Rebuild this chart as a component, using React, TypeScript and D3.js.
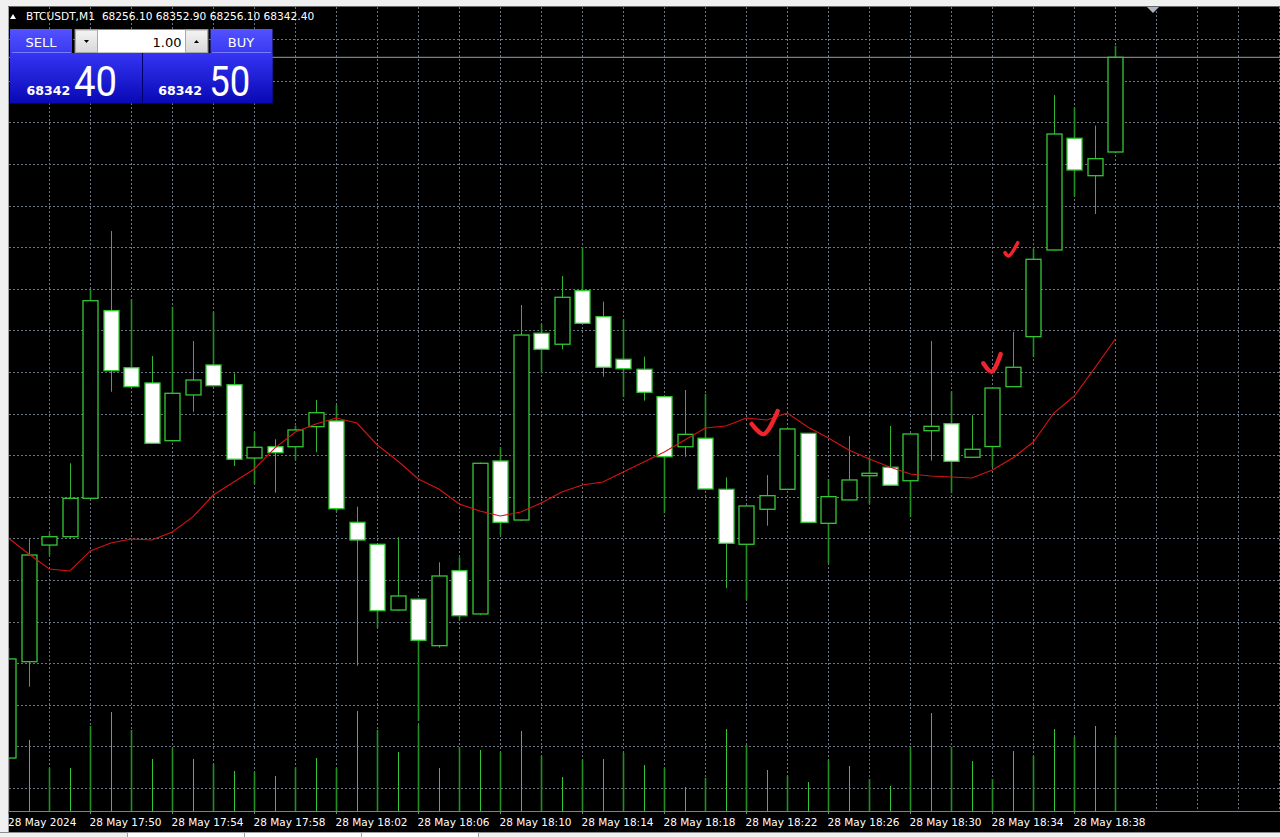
import React from 'react';
import * as d3 from 'd3';

// ---- data (array index 0 = 17:46, last = 18:40) ----
const times = [
  '17:46','17:47','17:48','17:49','17:50','17:51','17:52','17:53','17:54','17:55',
  '17:56','17:57','17:58','17:59','18:00','18:01','18:02','18:03','18:04','18:05',
  '18:06','18:07','18:08','18:09','18:10','18:11','18:12','18:13','18:14','18:15',
  '18:16','18:17','18:18','18:19','18:20','18:21','18:22','18:23','18:24','18:25',
  '18:26','18:27','18:28','18:29','18:30','18:31','18:32','18:33','18:34','18:35',
  '18:36','18:37','18:38','18:39','18:40'
];
const opens = [
  67703.8,67791.6,67897.9,67905.5,67940.5,68111.5,68059.5,68045.6,67993.0,68034.7,
  68062.0,68044.0,67977.2,67987.5,67987.5,68005.8,68011.0,67918.6,67898.6,67838.7,
  67848.5,67806.2,67874.5,67835.1,67974.5,67920.7,68090.9,68080.9,68129.7,68106.0,
  68067.2,68058.1,68033.1,67987.5,67995.2,67948.7,67898.6,67930.5,67948.7,67999.7,
  67917.7,67939.0,67961.1,67968.8,67956.5,68002.1,68008.5,67977.9,67987.7,68042.2,
  68087.8,68166.8,68268.6,68234.5,68256.1
];
const highs = [
  67804.1,67904.1,67908.6,67972.4,68130.3,68184.1,68122.1,68070.2,68115.1,68083.9,
  68110.6,68054.4,68001.2,67994.3,68006.7,68030.1,68025.5,67932.9,67898.6,67905.0,
  67849.2,67882.2,67886.7,67973.1,67987.0,68116.7,68099.4,68143.1,68169.5,68119.7,
  68103.6,68069.6,68033.7,68039.2,68035.6,67959.6,67933.9,67961.7,68004.1,68000.0,
  67958.1,67997.3,67977.9,68006.4,67999.6,68083.9,68038.3,68016.4,68041.5,68092.1,
  68167.7,68308.0,68296.8,68280.1,68352.9
];
const lows = [
  67674.7,67768.8,67888.8,67904.3,67939.9,68037.6,68041.5,67990.0,67992.3,68019.4,
  68042.4,67969.9,67953.5,67945.6,67975.4,67982.4,67928.3,67788.0,67822.6,67837.8,
  67737.6,67804.4,67829.6,67834.2,67907.1,67919.8,68054.4,68076.3,68099.4,68051.3,
  68032.6,68029.5,67926.8,67978.4,67948.5,67858.5,67847.8,67915.5,67948.1,67918.0,
  67881.3,67938.5,67935.3,67952.2,67923.2,67974.8,67945.1,67977.4,67969.0,68041.9,
  68069.0,68166.3,68215.4,68199.6,68256.1
];
const closes = [
  67794.1,67888.8,67905.5,67940.5,68120.6,68056.8,68042.2,67990.6,68036.2,68048.3,
  68043.1,67976.1,67987.0,67982.1,68002.8,68018.5,67931.0,67902.5,67838.1,67851.5,
  67811.1,67869.7,67833.5,67972.4,67918.6,68089.3,68076.3,68123.7,68100.0,68059.9,
  68058.6,68037.1,67978.4,67998.8,67949.0,67899.5,67933.5,67942.9,68003.7,67918.6,
  67942.0,67957.2,67963.3,67952.4,67999.1,68006.1,67974.2,67985.2,68041.0,68059.9,
  68158.3,68272.5,68239.7,68250.0,68342.4
];
const volumes = [
  60,71,43,43,85,99,81,52,63,52,
  47,40,39,35,44,53,43,100,81,59,
  86,43,64,61,59,80,55,34,51,52,
  58,46,43,24,33,82,66,41,35,29,
  51,45,32,25,64,98,64,50,32,60,
  55,82,74,85,74
];
const maValues = [
  67904.3,67889.7,67876.1,67874.3,67892.5,67899.8,67903.4,67902.5,67909.8,67923.5,
  67943.5,67955.4,67967.2,67986.3,68000.9,68008.2,68013.7,68009.1,67989.1,67974.5,
  67958.1,67949.0,67935.3,67928.9,67924.4,67928.0,67936.2,67946.3,67952.6,67955.4,
  67964.5,67973.6,67982.7,67993.6,68004.6,68006.4,68013.7,68011.9,68018.2,68005.5,
  67995.5,67984.5,67976.3,67969.0,67962.7,67960.8,67959.9,67959.0,67966.3,67977.2,
  67991.8,68018.2,68033.7,68059.3,68085.7
];
const tickLabels = [
  '28 May 2024','28 May 17:50','28 May 17:54','28 May 17:58','28 May 18:02','28 May 18:06',
  '28 May 18:10','28 May 18:14','28 May 18:18','28 May 18:22','28 May 18:26','28 May 18:30',
  '28 May 18:34','28 May 18:38'
];
const tickTimes = [
  '17:46','17:50','17:54','17:58','18:02','18:06','18:10','18:14','18:18','18:22','18:26','18:30','18:34','18:38'
];
const gridPrices = [
  68358.8,68320.9,68283.0,68245.1,68207.2,68169.3,68131.4,68093.5,68055.6,68017.7,
  67979.7,67941.8,67903.9,67866.0,67828.1,67790.2,67752.3,67714.4,67676.5
];
// hand-drawn check marks: [candle position (fractional index), price]
const checks = [
  [[36.26, 68008.3], [36.85, 67999.0], [37.53, 68020.1]],
  [[47.56, 68063.5], [47.97, 68055.9], [48.41, 68072.0]],
  [[48.62, 68164.3], [48.79, 68161.3], [49.24, 68173.4]]
];
const symbol = 'BTCUSDT,M1';
const ohlcText = '68256.10 68352.90 68256.10 68342.40';
const bidText = ['68342', '40'];
const askText = ['68342', '50'];
const lotText = '1.00';

const FONT = "'DejaVu Sans', Verdana, sans-serif";

export default function App() {
  const W = 1280, H = 837;
  const chartL = 9, chartT = 7, chartR = 1280, chartB = 811;
  const n = closes.length;
  const x = d3.scaleLinear().domain([0, 54]).range([8.3, 1115.3]);
  const y = d3.scaleLinear().domain([67700, 68400]).range([762.2, -5.9]);
  const v = d3.scaleLinear().domain([0, 100]).range([chartB, chartB - 100]);
  const bodyHalf = 7.5;
  const green = '#34c934';
  const wick = '#2fb52f';

  const gridX = d3.range(2, 63, 2).map(i => x(i));
  const maLine = d3.line<number>().x((_, i) => x(i)).y(d => y(d))(maValues) || '';
  const checkLine = d3.line<number[]>().x(d => x(d[0])).y(d => y(d[1])).curve(d3.curveCatmullRom.alpha(0.5));

  const lastClose = closes[n - 1];

  return (
    <svg width={W} height={H} style={{ position: 'absolute', left: 0, top: 0, display: 'block' }}
      xmlns="http://www.w3.org/2000/svg">
      <defs>
        <clipPath id="chartClip">
          <rect x={chartL} y={chartT} width={chartR - chartL} height={chartB - chartT} />
        </clipPath>
        <linearGradient id="hdr" x1="0" y1="0" x2="0" y2="1">
          <stop offset="0" stopColor="#5252ff" />
          <stop offset="1" stopColor="#3a3af2" />
        </linearGradient>
        <linearGradient id="pricePanel" x1="0" y1="0" x2="0" y2="1">
          <stop offset="0" stopColor="#3535f4" />
          <stop offset="1" stopColor="#0808b4" />
        </linearGradient>
        <linearGradient id="btn" x1="0" y1="0" x2="0" y2="1">
          <stop offset="0" stopColor="#f4f4f4" />
          <stop offset="1" stopColor="#d8d8d8" />
        </linearGradient>
      </defs>

      {/* window frame */}
      <rect x={0} y={0} width={W} height={H} fill="#f0f0f0" />
      <rect x={8} y={6} width={W - 8} height={826} fill="#000" />
      <line x1={8.5} y1={6} x2={8.5} y2={832} stroke="#a0a0a0" />
      <line x1={8} y1={6.5} x2={W} y2={6.5} stroke="#696969" />

      {/* grid */}
      <g clipPath="url(#chartClip)" stroke="#6a7684" strokeWidth={1} strokeDasharray="2,2">
        {gridPrices.map((p, i) => (
          <line key={'h' + i} x1={chartL} x2={chartR} y1={Math.round(y(p)) + 0.5} y2={Math.round(y(p)) + 0.5} />
        ))}
        {gridX.map((gx, i) => (
          <line key={'v' + i} x1={Math.round(gx) + 0.5} x2={Math.round(gx) + 0.5} y1={chartT} y2={chartB} />
        ))}
      </g>

      {/* bid line */}
      <line x1={chartL} x2={chartR} y1={y(lastClose)} y2={y(lastClose)} stroke="#7d7d7d" strokeWidth={1.2} />

      {/* volumes */}
      <g clipPath="url(#chartClip)">
        {volumes.map((vol, i) => (
          <line key={'vol' + i} x1={Math.round(x(i)) + 0.5} x2={Math.round(x(i)) + 0.5}
            y1={v(0)} y2={v(vol)} stroke={i % 2 === 0 ? '#238f23' : '#36c536'} strokeWidth={i % 2 === 0 ? 1.6 : 1} />
        ))}
      </g>

      {/* candles */}
      <g clipPath="url(#chartClip)">
        {closes.map((c, i) => {
          const o = opens[i];
          const cx = Math.round(x(i)) + 0.5;
          const bull = c >= o;
          const top = y(Math.max(o, c));
          const bot = y(Math.min(o, c));
          return (
            <g key={'c' + i}>
              <line x1={cx} x2={cx} y1={y(highs[i])} y2={y(lows[i])}
                stroke={i % 2 === 0 ? '#238f23' : wick} strokeWidth={i % 2 === 0 ? 1.6 : 1} />
              <rect x={cx - bodyHalf} y={top} width={bodyHalf * 2} height={Math.max(1.5, bot - top)}
                fill={bull ? '#000' : '#fff'} stroke={green} strokeWidth={1.3} />
            </g>
          );
        })}
      </g>

      {/* moving average */}
      <g clipPath="url(#chartClip)">
        <path d={maLine} fill="none" stroke="#d41414" strokeWidth={1.1} />
      </g>

      {/* hand-drawn checks */}
      {checks.map((pts, i) => (
        <path key={'chk' + i} d={checkLine(pts) || ''} fill="none" stroke="#f0242c"
          strokeWidth={i === 2 ? 3.6 : 4.4} strokeLinecap="round" strokeLinejoin="round" />
      ))}

      {/* time axis */}
      <line x1={chartL} x2={chartR} y1={chartB + 0.5} y2={chartB + 0.5} stroke="#808080" />
      {tickTimes.map((t, k) => {
        const i = times.indexOf(t);
        const tx = Math.round(x(i)) + 0.5;
        return (
          <g key={'t' + k}>
            <line x1={tx} x2={tx} y1={chartB} y2={chartB + 3} stroke="#808080" />
            <text x={Math.max(tx - 1, 8)} y={825.5} fill="#fff" fontFamily={FONT} fontSize={10.5}>{tickLabels[k]}</text>
          </g>
        );
      })}

      {/* bottom tab strip */}
      <rect x={0} y={832} width={W} height={5} fill="#f0f0f0" />
      <line x1={0} y1={832.5} x2={W} y2={832.5} stroke="#8c8c8c" />
      <rect x={127.5} y={832.5} width={351} height={5} fill="#fff" stroke="#a0a0a0" />
      <line x1={244.5} y1={832.5} x2={244.5} y2={837} stroke="#a0a0a0" />
      <line x1={361.5} y1={832.5} x2={361.5} y2={837} stroke="#a0a0a0" />

      {/* chart shift marker */}
      <path d="M1147,7 L1159,7 L1153,13 Z" fill="#aab4c4" />

      {/* title */}
      <path d="M10,19 L16,19 L13,14 Z" fill="#fff" />
      <text x={26} y={20} fill="#fff" fontFamily={FONT} fontSize={10.6}>
        {symbol}<tspan dx={7}>{ohlcText}</tspan>
      </text>

      {/* one-click trading panel */}
      <g fontFamily={FONT}>
        <rect x={10} y={29} width={62} height={24} fill="url(#hdr)" />
        <line x1={12} x2={71} y1={52.5} y2={52.5} stroke="#7a7aff" />
        <text x={41} y={46.5} fill="#fff" fontSize={13} textAnchor="middle">SELL</text>

        <rect x={210.5} y={29} width={62} height={24} fill="url(#hdr)" />
        <line x1={212} x2={271} y1={52.5} y2={52.5} stroke="#7a7aff" />
        <text x={241} y={46.5} fill="#fff" fontSize={13} textAnchor="middle">BUY</text>

        <rect x={75} y={29.5} width={133} height={23.5} fill="#fff" stroke="#8a8a8a" strokeWidth={1} />
        <rect x={75.5} y={30} width={22} height={22.5} fill="url(#btn)" stroke="#a8a8a8" />
        <rect x={185.5} y={30} width={22} height={22.5} fill="url(#btn)" stroke="#a8a8a8" />
        <path d="M84,40 L89,40 L86.5,43 Z" fill="#000" />
        <path d="M194,43 L199,43 L196.5,40 Z" fill="#000" />
        <text x={181.5} y={46.5} fill="#000" fontSize={13} textAnchor="end">{lotText}</text>

        <rect x={10} y={53} width={132} height={50.5} fill="url(#pricePanel)" />
        <rect x={143} y={53} width={129.7} height={50.5} fill="url(#pricePanel)" />
        <line x1={142.5} x2={142.5} y1={53} y2={103.5} stroke="#00006a" />

        <text x={26.5} y={94.5} fill="#fff" fontSize={12.6} fontWeight="bold">{bidText[0]}</text>
        <text x={74} y={95.5} fill="#fff" fontSize={43} fontFamily="Roboto, 'Liberation Sans', sans-serif"
          textLength={43} lengthAdjust="spacingAndGlyphs">{bidText[1]}</text>
        <text x={158.3} y={94.5} fill="#fff" fontSize={12.6} fontWeight="bold">{askText[0]}</text>
        <text x={209.3} y={95.5} fill="#fff" fontSize={43} fontFamily="Roboto, 'Liberation Sans', sans-serif"
          textLength={41} lengthAdjust="spacingAndGlyphs">{askText[1]}</text>
      </g>
    </svg>
  );
}
